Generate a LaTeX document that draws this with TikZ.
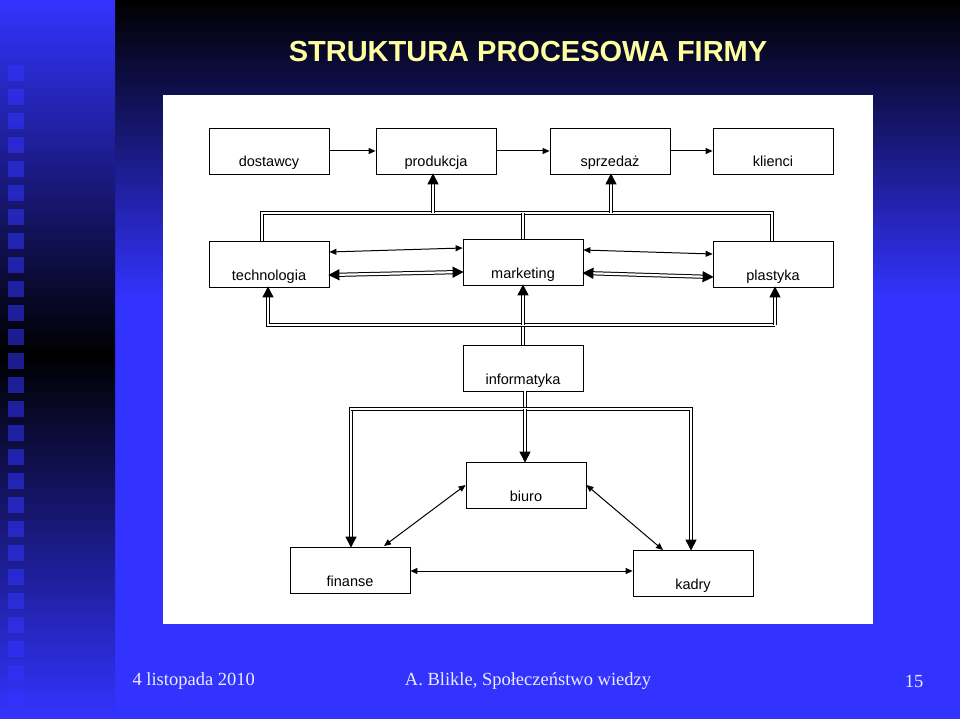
\documentclass[tikz,border=0pt]{standalone}
\usepackage{fontspec}
\setmainfont{Liberation Serif}
\newfontfamily\arialf{Liberation Sans}
\usetikzlibrary{arrows.meta}
\definecolor{bblue}{RGB}{51,51,255}
\definecolor{ttl}{RGB}{255,255,160}
\begin{document}
\begin{tikzpicture}[x=1pt,y=-1pt,
  box/.style={draw,line width=0.8pt,minimum width=120pt,minimum height=46pt,inner sep=0pt,font=\arialf\fontsize{14.5}{16}\selectfont,text depth=0pt},
  dbl/.style={double,double distance=2.2pt,line width=1pt},
  dblar/.style={dbl,-{Triangle[length=11pt,width=11pt,sep=-1pt]}},
  dblarb/.style={dbl,{Triangle[length=11pt,width=11pt,sep=-1pt]}-{Triangle[length=11pt,width=11pt,sep=-1pt]}},
  sar/.style={line width=1pt,-{Triangle[length=7pt,width=6pt]}},
  sarb/.style={line width=1pt,{Triangle[length=7pt,width=6pt]}-{Triangle[length=7pt,width=6pt]}}]
\useasboundingbox (0,0) rectangle (960,719);
% background
\shade[top color=black,bottom color=bblue] (115,0) rectangle (960,300);
\fill[bblue] (115,299) rectangle (960,719);
\shade[top color=bblue,bottom color=black] (0,0) rectangle (115,355);
\shade[top color=black,bottom color=bblue] (0,354) rectangle (115,719);
\foreach \i in {0,...,26} {\fill[bblue,opacity=0.55] (8,65+24*\i) rectangle (24,81+24*\i);}
\node[text=ttl,font=\arialf\bfseries\fontsize{29}{32}\selectfont] (title) at (528,52) {STRUKTURA PROCESOWA FIRMY};
\fill[white] (163,95) rectangle (873,624);
% boxes
\newcommand\bx[5]{\node[box,label={[font=\arialf\fontsize{14.5}{16}\selectfont,anchor=north]north:#5},yshift=0pt] (#1) at ({(#2+#3)/2},#4) {};}
\node[box,text height=32pt] (dost) at (269,151) {dostawcy};
\node[box,text height=32pt] (prod) at (436,151) {produkcja};
\node[box,text height=32pt] (sprz) at (610,151) {sprzedaż};
\node[box,text height=32pt] (klie) at (773,151) {klienci};
\node[box,text height=32pt] (tech) at (269,264) {technologia};
\node[box,text height=32pt] (mark) at (523,262) {marketing};
\node[box,text height=32pt] (plas) at (773,264) {plastyka};
\node[box,text height=32pt] (info) at (523,368) {informatyka};
\node[box,text height=32pt] (biur) at (526,485) {biuro};
\node[box,text height=32pt] (fina) at (350,570) {finanse};
\node[box,text height=32pt] (kadr) at (693,573) {kadry};
% top row
\draw[sar] (dost.east) -- (prod.west);
\draw[sar] (prod.east) -- (sprz.west);
\draw[sar] (sprz.east) -- (klie.west);
% bus 1
\coordinate (b1l) at (262,213); \coordinate (b1r) at (772,213);
\draw[dbl] (tech.north -| b1l) -- (b1l) -- (b1r) -- (plas.north -| b1r);
\draw[dbl] (mark.north) -- (mark.north |- b1l);
\draw[dblar] (433,213) -- (prod.south -| 433,0);
\draw[dblar] (611,213) -- (sprz.south -| 611,0);
% row 2
\draw[dblarb] ([yshift=-11pt]tech.east) -- ([yshift=-10pt]mark.west);
\draw[sarb] ([yshift=12pt]tech.east) -- ([yshift=14pt]mark.west);
\draw[dblarb] ([yshift=-11pt]mark.east) -- ([yshift=-13pt]plas.west);
\draw[sarb] ([yshift=12pt]mark.east) -- ([yshift=10pt]plas.west);
% bus 2
\coordinate (b2l) at (268,325); \coordinate (b2r) at (775,325);
\draw[dbl] (info.north) -- (info.north |- b2l);
\draw[dblar] (b2r) -- (b2l) -- (tech.south -| b2l);
\draw[dblar] (b2r) -- (plas.south -| b2r);
\draw[dblar] (info.north |- b2l) -- (mark.south);
% bus 3
\coordinate (b3l) at (351,409); \coordinate (b3r) at (691,409);
\draw[dbl] (info.south -| 525,0) -- (525,409);
\draw[dblar] (b3r) -- (b3l) -- (fina.north -| b3l);
\draw[dblar] (b3l) -- (b3r) -- (kadr.north -| b3r);
\draw[dblar] (525,409) -- (biur.north -| 525,0);
% lower
\draw[sarb] (biur.west) -- (384,546);
\draw[sarb] (biur.east) -- (663,550);
\draw[sarb] (fina.east |- 0,571) -- (kadr.west |- 0,571);
% footer
\node[text=white!92!blue,font=\fontsize{18.5}{20}\selectfont,anchor=west] (f1) at (129,681) {4 listopada 2010};
\node[text=white!92!blue,font=\fontsize{18.5}{20}\selectfont] (f2) at (528,681) {A. Blikle, Społeczeństwo wiedzy};
\node[text=white!92!blue,font=\fontsize{18.5}{20}\selectfont,anchor=east] (f3) at (927,681) {15};
\end{tikzpicture}
\end{document}
